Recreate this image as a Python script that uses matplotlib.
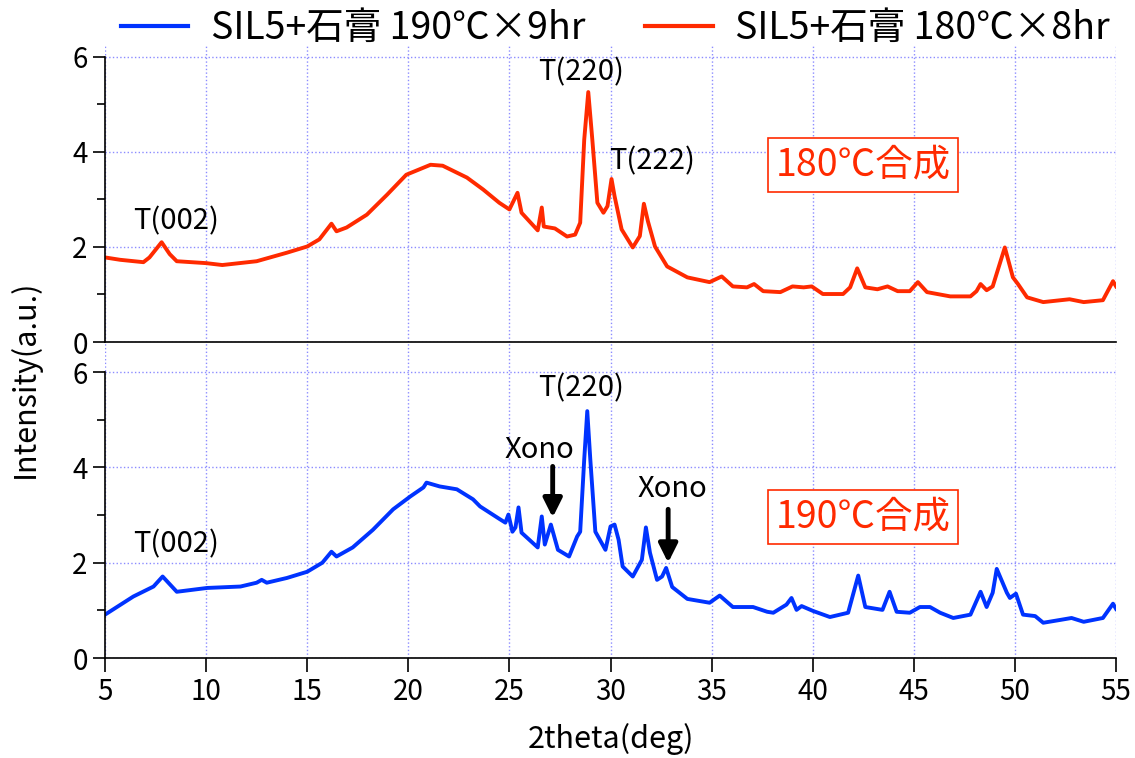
import matplotlib.pyplot as plt
from matplotlib.lines import Line2D

plt.rcParams['font.family'] = ['Noto Sans CJK JP', 'DejaVu Sans']

# data: 2theta (deg) and intensity (a.u.)
x_180 = [5.0, 5.75, 6.9, 7.2, 7.8, 8.2, 8.55, 10.0, 10.8, 12.5, 14.0, 15.0, 15.6, 16.2,
         16.45, 16.95, 17.95, 18.95, 19.9, 21.1, 21.7, 22.9, 23.7, 24.5, 25.0, 25.4,
         25.6, 26.4, 26.6, 26.7, 27.25, 27.85, 28.25, 28.5, 28.7, 28.9, 29.1, 29.35,
         29.65, 29.85, 30.05, 30.2, 30.55, 31.1, 31.45, 31.65, 31.85, 32.2, 32.8, 33.8,
         34.9, 35.5, 36.05, 36.75, 37.1, 37.55, 38.4, 39.0, 39.55, 39.95, 40.5, 41.5,
         41.85, 42.2, 42.6, 43.2, 43.7, 44.2, 44.8, 45.2, 45.65, 46.8, 47.8, 48.1,
         48.3, 48.6, 48.9, 49.5, 49.9, 50.15, 50.6, 51.4, 52.7, 53.4, 54.35, 54.85, 55.0]
y_180 = [1.78, 1.73, 1.68, 1.78, 2.10, 1.85, 1.70, 1.66, 1.62, 1.70, 1.88, 2.01, 2.16, 2.49,
         2.33, 2.41, 2.68, 3.10, 3.52, 3.73, 3.71, 3.46, 3.21, 2.93, 2.79, 3.14,
         2.72, 2.35, 2.83, 2.43, 2.39, 2.22, 2.26, 2.51, 4.26, 5.26, 4.26, 2.93,
         2.72, 2.86, 3.43, 3.07, 2.37, 1.99, 2.23, 2.91, 2.54, 2.01, 1.59, 1.36,
         1.26, 1.38, 1.17, 1.15, 1.22, 1.07, 1.05, 1.17, 1.15, 1.17, 1.01, 1.01,
         1.15, 1.55, 1.15, 1.11, 1.17, 1.07, 1.07, 1.26, 1.05, 0.96, 0.96, 1.07,
         1.22, 1.09, 1.17, 1.99, 1.36, 1.22, 0.94, 0.84, 0.90, 0.84, 0.88, 1.28, 1.17]

x_190 = [5.0, 6.4, 7.4, 7.85, 8.55, 10.05, 11.7, 12.5, 12.75, 13.0, 14.0, 15.0, 15.75,
         16.2, 16.45, 17.25, 18.25, 19.25, 20.1, 20.75, 20.9, 21.55, 22.4, 23.2, 23.55,
         24.5, 24.8, 24.95, 25.15, 25.3, 25.45, 25.6, 26.4, 26.6, 26.75, 27.05, 27.4,
         27.95, 28.35, 28.5, 28.7, 28.85, 29.0, 29.25, 29.75, 30.0, 30.2, 30.4, 30.6,
         31.1, 31.55, 31.75, 31.95, 32.3, 32.55, 32.75, 33.05, 33.8, 34.9, 35.4, 36.05,
         37.05, 37.75, 38.05, 38.7, 38.95, 39.2, 39.45, 40.0, 40.85, 41.75, 42.25, 42.6,
         43.45, 43.8, 44.15, 44.8, 45.3, 45.8, 46.3, 46.95, 47.8, 48.3, 48.6, 48.9,
         49.1, 49.6, 49.75, 50.05, 50.4, 51.0, 51.4, 52.25, 52.8, 53.4, 54.35, 54.85, 55.0]
y_190 = [0.91, 1.29, 1.50, 1.71, 1.39, 1.47, 1.50, 1.58, 1.64, 1.58, 1.68, 1.81, 2.00,
         2.23, 2.13, 2.32, 2.69, 3.12, 3.39, 3.58, 3.68, 3.60, 3.54, 3.33, 3.18,
         2.92, 2.84, 3.01, 2.65, 2.74, 3.16, 2.63, 2.32, 2.97, 2.38, 2.80, 2.27,
         2.13, 2.55, 2.65, 4.17, 5.18, 4.17, 2.65, 2.27, 2.76, 2.80, 2.48, 1.92,
         1.71, 2.06, 2.74, 2.21, 1.64, 1.71, 1.89, 1.49, 1.24, 1.16, 1.31, 1.07,
         1.07, 0.97, 0.95, 1.12, 1.26, 1.01, 1.09, 0.99, 0.86, 0.95, 1.73, 1.07,
         1.01, 1.39, 0.97, 0.95, 1.07, 1.07, 0.95, 0.84, 0.91, 1.39, 1.07, 1.37,
         1.87, 1.37, 1.26, 1.35, 0.91, 0.88, 0.74, 0.80, 0.84, 0.76, 0.84, 1.14, 1.03]

labels = ['SIL5+石膏 190℃×9hr', 'SIL5+石膏 180℃×8hr']

red = '#ff2a00'
blue = '#0033ff'
grid_c = '#8c8cff'

fig = plt.figure(figsize=(11.35, 7.58), dpi=100)
ax1 = fig.add_axes([0.0925, 0.5488, 0.8908, 0.3918])
ax2 = fig.add_axes([0.0925, 0.1319, 0.8908, 0.4150])

ax1.plot(x_180, y_180, color=red, lw=2.8)
ax2.plot(x_190, y_190, color=blue, lw=2.8)

for ax, top in [(ax1, 6.25), (ax2, 6.6)]:
    ax.set_xlim(5, 55)
    ax.set_ylim(0, top)
    ax.set_xticks(range(5, 56, 5))
    ax.set_yticks([0, 2, 4, 6])
    ax.set_yticks([1, 3, 5], minor=True)
    ax.grid(True, which='major', color=grid_c, linestyle=':', lw=1)
    ax.spines['top'].set_visible(False)
    ax.spines['right'].set_visible(False)
    ax.spines['left'].set_bounds(0, 6)
    ax.spines['left'].set_linewidth(1.2)
    ax.spines['bottom'].set_linewidth(1.2)
    ax.tick_params(axis='y', which='major', direction='out', length=9, width=1.2, labelsize=20)
    ax.tick_params(axis='y', which='minor', direction='out', length=6, width=1.2)

ax1.tick_params(axis='x', length=0, labelbottom=False)
ax2.tick_params(axis='x', direction='out', length=10, width=1.2, labelsize=20)

ax2.set_xlabel('2theta(deg)', fontsize=22, labelpad=12)
fig.text(0.022, 0.5, 'Intensity(a.u.)', rotation=90, fontsize=22, va='center', ha='center')

# peak labels
ax1.text(8.5, 2.53, 'T(002)', fontsize=21, ha='center', va='center')
ax1.text(28.54, 5.68, 'T(220)', fontsize=21, ha='center', va='center')
ax1.text(32.05, 3.81, 'T(222)', fontsize=21, ha='center', va='center')
ax2.text(8.5, 2.38, 'T(002)', fontsize=21, ha='center', va='center')
ax2.text(28.54, 5.66, 'T(220)', fontsize=21, ha='center', va='center')
ax2.text(26.5, 4.36, 'Xono', fontsize=21, ha='center', va='center')
ax2.text(33.04, 3.54, 'Xono', fontsize=21, ha='center', va='center')

arrow = dict(arrowstyle='-|>', color='black', lw=3.5, mutation_scale=28, shrinkA=0, shrinkB=0)
ax2.annotate('', xy=(27.14, 2.95), xytext=(27.14, 4.02), arrowprops=arrow)
ax2.annotate('', xy=(32.85, 2.0), xytext=(32.85, 3.12), arrowprops=arrow)

box = dict(boxstyle='square,pad=0.2', fc='white', ec=red, lw=1.2)
ax1.text(42.49, 3.73, '180℃合成', fontsize=27, color=red, ha='center', va='center', bbox=box)
ax2.text(42.49, 2.95, '190℃合成', fontsize=27, color=red, ha='center', va='center', bbox=box)

handles = [Line2D([], [], color=blue, lw=3), Line2D([], [], color=red, lw=3)]
fig.legend(handles, labels, loc='center', bbox_to_anchor=(0.542, 0.962), ncol=2,
           frameon=False, fontsize=27, handlelength=1.8, handletextpad=0.6,
           columnspacing=1.6, borderaxespad=0)

fig.savefig('out.png', dpi=100)
